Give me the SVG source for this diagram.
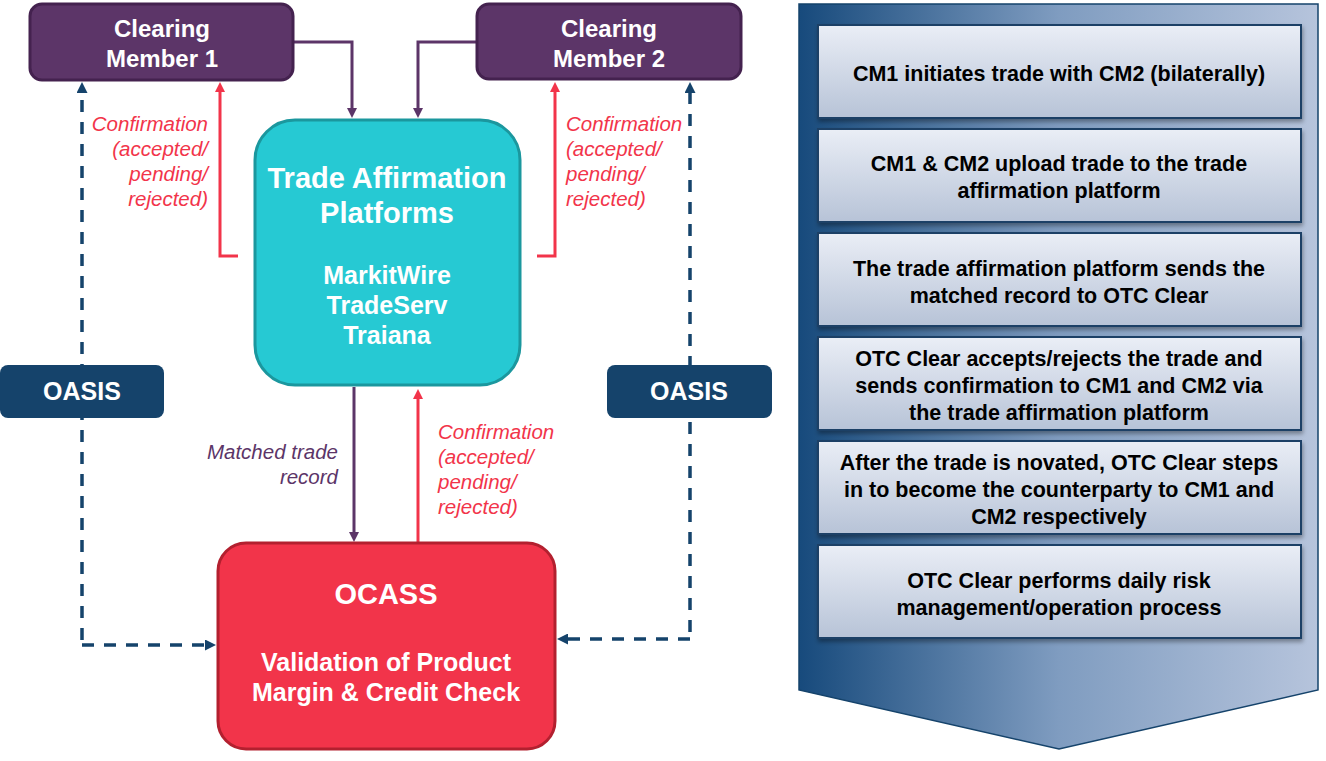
<svg xmlns="http://www.w3.org/2000/svg" width="1326" height="761" viewBox="0 0 1326 761">
<defs>
<linearGradient id="panelG" x1="0" y1="0" x2="1" y2="0">
<stop offset="0" stop-color="#174a7c"/>
<stop offset="0.5" stop-color="#7f9cc0"/>
<stop offset="1" stop-color="#b6c4dc"/>
</linearGradient>
<linearGradient id="stepG" x1="0" y1="0" x2="0" y2="1">
<stop offset="0" stop-color="#eaeef6"/>
<stop offset="1" stop-color="#b7c3d7"/>
</linearGradient>
<filter id="sh" x="-5%" y="-10%" width="110%" height="130%">
<feDropShadow dx="1" dy="3" stdDeviation="2" flood-color="#000" flood-opacity="0.35"/>
</filter>
<marker id="aP" markerWidth="10" markerHeight="10" refX="5" refY="5" orient="auto" markerUnits="userSpaceOnUse">
<path d="M0,0 L10,5 L0,10 z" fill="#5c3568"/>
</marker>
<marker id="aR" markerWidth="10" markerHeight="10" refX="5" refY="5" orient="auto" markerUnits="userSpaceOnUse">
<path d="M0,0 L10,5 L0,10 z" fill="#f2344a"/>
</marker>
<marker id="aB" markerWidth="11" markerHeight="11" refX="5" refY="5.5" orient="auto" markerUnits="userSpaceOnUse">
<path d="M0,0 L11,5.5 L0,11 z" fill="#15436b"/>
</marker>
<style>
.w{font-family:"Liberation Sans",Arial,sans-serif;font-weight:bold;fill:#fff;text-anchor:middle}
.st{font-family:"Liberation Sans",Arial,sans-serif;font-weight:bold;fill:#000;font-size:21.5px;text-anchor:middle}
.lr{font-family:"Liberation Sans",Arial,sans-serif;font-style:italic;font-size:20.5px;fill:#f2344a}
.lp{font-family:"Liberation Sans",Arial,sans-serif;font-style:italic;font-size:20.5px;fill:#5c3568}
.step{fill:url(#stepG);stroke:#1c3f66;stroke-width:2;filter:url(#sh)}
.cp{fill:none;stroke:#5c3568;stroke-width:3}
.cr{fill:none;stroke:#f2344a;stroke-width:3}
.cb{fill:none;stroke:#15436b;stroke-width:3.5;stroke-dasharray:12,10}
</style>
</defs>
<rect width="1326" height="761" fill="#fff"/>

<g id="panel">
<path d="M799,4 H1318 V690 L1059,749 L799,690 Z" fill="url(#panelG)" stroke="#15436b" stroke-width="1.5"/>
</g>

<g id="connectors">
<path class="cp" d="M293,42 H352 V113" marker-end="url(#aP)"/>
<path class="cp" d="M477,42 H418 V113" marker-end="url(#aP)"/>
<path class="cr" d="M238,256 H220 V87" marker-end="url(#aR)"/>
<path class="cr" d="M537,256 H555 V87" marker-end="url(#aR)"/>
<path class="cp" d="M354,387 V537" marker-end="url(#aP)"/>
<path class="cr" d="M418,543 V394" marker-end="url(#aR)"/>
<path class="cb" d="M82,640 V88" marker-end="url(#aB)"/>
<path class="cb" d="M82,645 H210" marker-end="url(#aB)"/>
<path class="cb" d="M690,632 V88" marker-end="url(#aB)"/>
<path class="cb" d="M690,639 H563" marker-end="url(#aB)"/>
</g>

<g id="cm1">
<rect x="30" y="4" width="263" height="76" rx="12" fill="#5c3568" stroke="#44224f" stroke-width="3"/>
<text class="w" x="162" y="37" font-size="24">Clearing</text>
<text class="w" x="162" y="67" font-size="24">Member 1</text>
</g>
<g id="cm2">
<rect x="477" y="4" width="264" height="75" rx="12" fill="#5c3568" stroke="#44224f" stroke-width="3"/>
<text class="w" x="609" y="37" font-size="24">Clearing</text>
<text class="w" x="609" y="67" font-size="24">Member 2</text>
</g>
<g id="tap">
<rect x="255" y="120" width="265" height="265" rx="40" fill="#26c9d3" stroke="#1b979e" stroke-width="3"/>
<text class="w" x="387" y="188" font-size="29">Trade Affirmation</text>
<text class="w" x="387" y="223" font-size="29">Platforms</text>
<text class="w" x="387" y="284" font-size="25">MarkitWire</text>
<text class="w" x="387" y="314" font-size="25">TradeServ</text>
<text class="w" x="387" y="344" font-size="25">Traiana</text>
</g>
<g id="ocass">
<rect x="218" y="543" width="337" height="206" rx="28" fill="#f2344a" stroke="#b3202f" stroke-width="3"/>
<text class="w" x="386" y="604" font-size="29">OCASS</text>
<text class="w" x="386" y="671" font-size="25">Validation of Product</text>
<text class="w" x="386" y="701" font-size="25">Margin &amp; Credit Check</text>
</g>
<g id="oasis1">
<rect x="0" y="365" width="164" height="53" rx="8" fill="#15436b"/>
<text class="w" x="82" y="400" font-size="25">OASIS</text>
</g>
<g id="oasis2">
<rect x="607" y="365" width="165" height="53" rx="8" fill="#15436b"/>
<text class="w" x="689" y="400" font-size="25">OASIS</text>
</g>

<g id="labels">
<text class="lr" text-anchor="end" x="208" y="131">Confirmation</text>
<text class="lr" text-anchor="end" x="208" y="156">(accepted/</text>
<text class="lr" text-anchor="end" x="208" y="181">pending/</text>
<text class="lr" text-anchor="end" x="208" y="206">rejected)</text>
<text class="lr" x="566" y="131">Confirmation</text>
<text class="lr" x="566" y="156">(accepted/</text>
<text class="lr" x="566" y="181">pending/</text>
<text class="lr" x="566" y="206">rejected)</text>
<text class="lr" x="438" y="439">Confirmation</text>
<text class="lr" x="438" y="464">(accepted/</text>
<text class="lr" x="438" y="489">pending/</text>
<text class="lr" x="438" y="514">rejected)</text>
<text class="lp" text-anchor="end" x="338" y="459">Matched trade</text>
<text class="lp" text-anchor="end" x="338" y="484">record</text>
</g>

<g id="step1">
<rect class="step" x="818" y="25" width="483" height="93"/>
<text class="st" x="1059" y="81">CM1 initiates trade with CM2 (bilaterally)</text>
</g>
<g id="step2">
<rect class="step" x="818" y="129" width="483" height="93"/>
<text class="st" x="1059" y="171">CM1 &amp; CM2 upload trade to the trade</text>
<text class="st" x="1059" y="198">affirmation platform</text>
</g>
<g id="step3">
<rect class="step" x="818" y="233" width="483" height="93"/>
<text class="st" x="1059" y="276">The trade affirmation platform sends the</text>
<text class="st" x="1059" y="303">matched record to OTC Clear</text>
</g>
<g id="step4">
<rect class="step" x="818" y="337" width="483" height="93"/>
<text class="st" x="1059" y="366">OTC Clear accepts/rejects the trade and</text>
<text class="st" x="1059" y="393">sends confirmation to CM1 and CM2 via</text>
<text class="st" x="1059" y="420">the trade affirmation platform</text>
</g>
<g id="step5">
<rect class="step" x="818" y="441" width="483" height="93"/>
<text class="st" x="1059" y="470">After the trade is novated, OTC Clear steps</text>
<text class="st" x="1059" y="497">in to become the counterparty to CM1 and</text>
<text class="st" x="1059" y="524">CM2 respectively</text>
</g>
<g id="step6">
<rect class="step" x="818" y="545" width="483" height="93"/>
<text class="st" x="1059" y="588">OTC Clear performs daily risk</text>
<text class="st" x="1059" y="615">management/operation process</text>
</g>
</svg>
